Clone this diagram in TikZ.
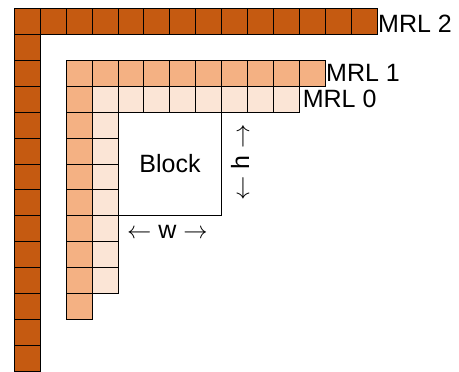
\documentclass[tikz,border=0pt]{standalone}
\usepackage{fontspec}
\setmainfont{Liberation Sans}
\usetikzlibrary{positioning}

\definecolor{mrltwo}{HTML}{C55A11}
\definecolor{mrlone}{HTML}{F4B183}
\definecolor{mrlzero}{HTML}{FBE5D6}

\begin{document}
\begin{tikzpicture}[
  x=0.65cm, y=-0.65cm,
  cell/.style={draw=black, line width=0.7pt},
  every node/.style={inner sep=0pt, font=\fontsize{17.8}{21}\selectfont}
]
  \useasboundingbox (-0.54,-0.31) rectangle (17.12,14.0);

  % reference line 2
  \foreach \i in {0,...,13} {
    \draw[cell, fill=mrltwo] (\i,0) rectangle ++(1,1);
    \draw[cell, fill=mrltwo] (0,\i) rectangle ++(1,1);
  }
  % reference line 1
  \foreach \i in {2,...,11} {
    \draw[cell, fill=mrlone] (\i,2) rectangle ++(1,1);
    \draw[cell, fill=mrlone] (2,\i) rectangle ++(1,1);
  }
  % reference line 0
  \foreach \i in {3,...,10} {
    \draw[cell, fill=mrlzero] (\i,3) rectangle ++(1,1);
    \draw[cell, fill=mrlzero] (3,\i) rectangle ++(1,1);
  }

  \node[draw, line width=0.7pt, minimum size=2.6cm] (block) at (6,6) {Block};

  \node[anchor=west] (mrl2) at (14,0.6) {MRL 2};
  \node[anchor=west] (mrl1) at (12,2.5) {MRL 1};
  \node[anchor=west] (mrl0) at (11.1,3.5) {MRL 0};

  \node[rotate=90] (hlabel) at (8.7,5.95) {$\leftarrow$\ h\ $\rightarrow$};
  \node (wlabel) at (5.9,8.6) {$\leftarrow$\ w\ $\rightarrow$};
\end{tikzpicture}
\end{document}
